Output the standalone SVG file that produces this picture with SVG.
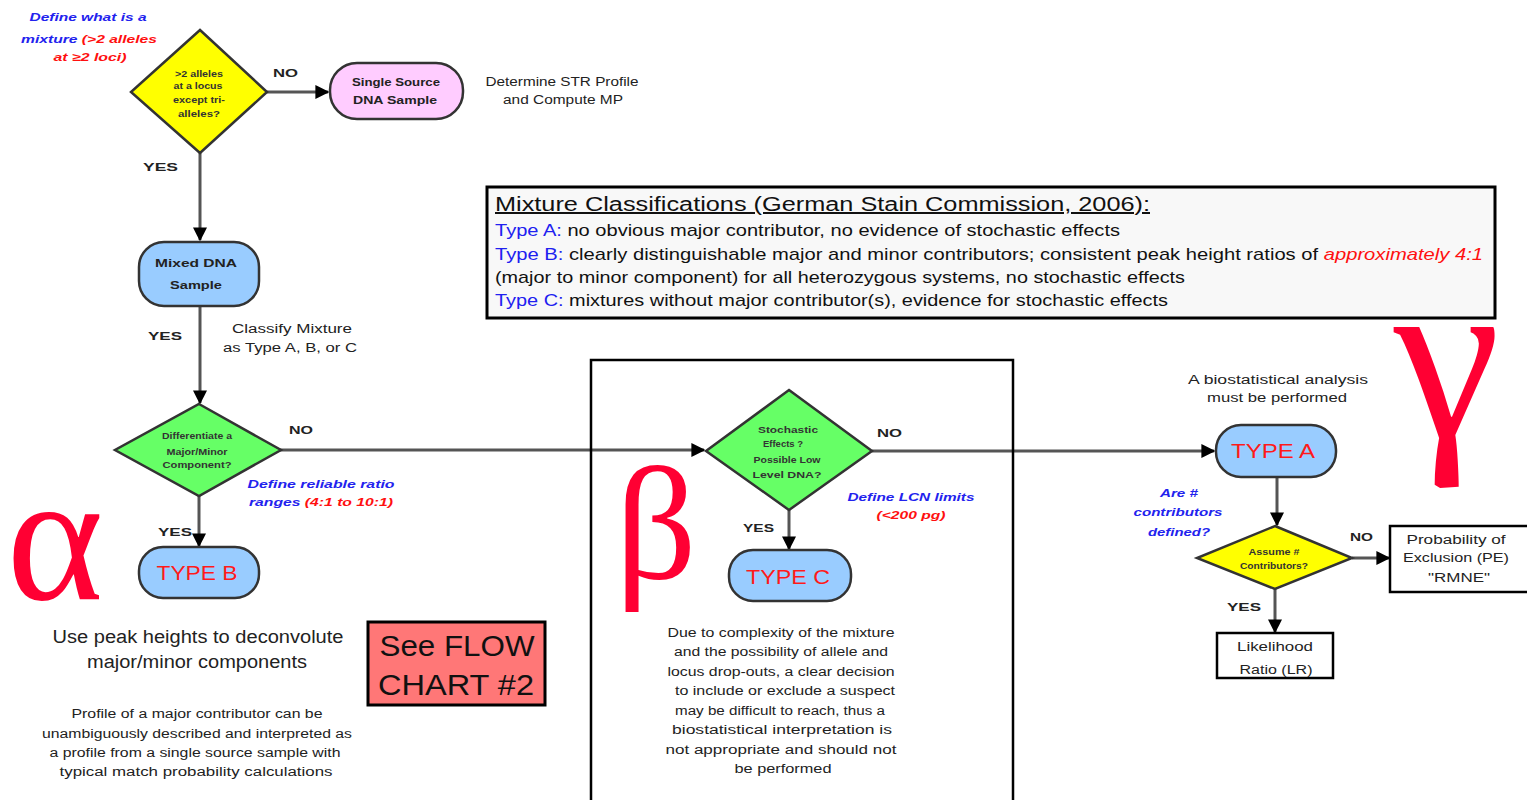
<svg xmlns="http://www.w3.org/2000/svg" width="1527" height="800" viewBox="0 0 1527 800">
<style>
text{font-family:"Liberation Sans",Arial,sans-serif;}
.n{stroke:#333;stroke-width:2.5;}
.s{font-size:11px;font-weight:bold;fill:#222;text-anchor:middle;}
.d{font-size:9.5px;font-weight:bold;fill:#333;text-anchor:middle;}
.lab{font-size:11px;font-weight:bold;fill:#222;}
.note{font-size:12px;fill:#222;text-anchor:middle;}
.blue{font-size:11px;font-weight:bold;font-style:italic;fill:#2222EE;text-anchor:middle;}
.red{fill:#FF1010;}
.type{font-size:21px;fill:#FF1A1A;text-anchor:middle;}
.greek{font-family:"Liberation Serif","Times New Roman",serif;fill:#FF0033;text-anchor:middle;}
.c{stroke:#555;stroke-width:3;fill:none;marker-end:url(#ah);}
.cl{font-size:17px;fill:#111;}
.tb{fill:#2020F0;}
</style>
<defs>
<marker id="ah" viewBox="0 0 10 10" refX="9" refY="5" markerWidth="14" markerHeight="14" orient="auto" markerUnits="userSpaceOnUse">
<path d="M0,0 L10,5 L0,10 z" fill="#000"/>
</marker>
</defs>
<rect width="1527" height="800" fill="#fff"/>

<g id="connectors">
<path class="c" d="M267,92 L328,92"/>
<path class="c" d="M200,153 L200,240"/>
<path class="c" d="M200,307 L200,403"/>
<path class="c" d="M280,450 L704,450"/>
<path class="c" d="M199,496 L199,546"/>
<path class="c" d="M872,451 L1214,451"/>
<path class="c" d="M789,510 L789,549"/>
<path class="c" d="M1277,478 L1277,525"/>
<path class="c" d="M1352,558 L1389,558"/>
<path class="c" d="M1275,589 L1275,632"/>
</g>

<g id="define-mixture">
<text class="blue" x="88" y="21" textLength="117" lengthAdjust="spacingAndGlyphs">Define what is a</text>
<text class="blue" x="89" y="43" textLength="136" lengthAdjust="spacingAndGlyphs">mixture <tspan class="red">(&gt;2 alleles</tspan></text>
<text class="blue" x="90" y="61" style="fill:#FF1010" textLength="73" lengthAdjust="spacingAndGlyphs">at ≥2 loci)</text>
</g>

<g id="d1">
<polygon class="n" points="200,30 267,92 200,153 131,92" fill="#FFFF00"/>
<text class="d" x="199" y="77" textLength="48" lengthAdjust="spacingAndGlyphs">&gt;2 alleles</text>
<text class="d" x="198" y="89" textLength="49" lengthAdjust="spacingAndGlyphs">at a locus</text>
<text class="d" x="199" y="103" textLength="52" lengthAdjust="spacingAndGlyphs">except tri-</text>
<text class="d" x="199" y="117" textLength="42" lengthAdjust="spacingAndGlyphs">alleles?</text>
</g>
<text class="lab" x="273" y="77" textLength="25" lengthAdjust="spacingAndGlyphs">NO</text>
<text class="lab" x="143" y="171" textLength="35" lengthAdjust="spacingAndGlyphs">YES</text>

<g id="single">
<rect class="n" x="330" y="63" width="133" height="56" rx="27" fill="#FFCCFF"/>
<text class="s" x="396" y="86" textLength="88" lengthAdjust="spacingAndGlyphs">Single Source</text>
<text class="s" x="395" y="104" textLength="84" lengthAdjust="spacingAndGlyphs">DNA Sample</text>
</g>
<g id="determine">
<text class="note" x="562" y="86" textLength="153" lengthAdjust="spacingAndGlyphs">Determine STR Profile</text>
<text class="note" x="563" y="104" textLength="120" lengthAdjust="spacingAndGlyphs">and Compute MP</text>
</g>

<g id="mixed">
<rect class="n" x="139" y="242" width="120" height="64" rx="25" fill="#99CCFF"/>
<text class="s" x="196" y="267" textLength="82" lengthAdjust="spacingAndGlyphs">Mixed DNA</text>
<text class="s" x="196" y="289" textLength="52" lengthAdjust="spacingAndGlyphs">Sample</text>
</g>
<text class="lab" x="148" y="340" textLength="34" lengthAdjust="spacingAndGlyphs">YES</text>
<text class="note" x="292" y="333" textLength="120" lengthAdjust="spacingAndGlyphs">Classify Mixture</text>
<text class="note" x="290" y="352" textLength="134" lengthAdjust="spacingAndGlyphs">as Type A, B, or C</text>

<g id="d2">
<polygon class="n" points="199,404 281,450 199,496 115,450" fill="#66FF66"/>
<text class="d" x="197" y="439" textLength="70" lengthAdjust="spacingAndGlyphs">Differentiate a</text>
<text class="d" x="197" y="455" textLength="61" lengthAdjust="spacingAndGlyphs">Major/Minor</text>
<text class="d" x="197" y="468" textLength="69" lengthAdjust="spacingAndGlyphs">Component?</text>
</g>
<text class="lab" x="289" y="434" textLength="24" lengthAdjust="spacingAndGlyphs">NO</text>
<text class="blue" x="321" y="488" textLength="147" lengthAdjust="spacingAndGlyphs">Define reliable ratio</text>
<text class="blue" x="321" y="506" textLength="144" lengthAdjust="spacingAndGlyphs">ranges <tspan class="red">(4:1 to 10:1)</tspan></text>
<text class="lab" x="158" y="536" textLength="34" lengthAdjust="spacingAndGlyphs">YES</text>

<g id="typeb">
<rect class="n" x="139" y="547" width="120" height="51" rx="24" fill="#99CCFF"/>
<text class="type" x="197" y="580" textLength="81" lengthAdjust="spacingAndGlyphs">TYPE B</text>
</g>
<text class="note" x="198" y="643" style="font-size:18px" textLength="291" lengthAdjust="spacingAndGlyphs">Use peak heights to deconvolute</text>
<text class="note" x="197" y="668" style="font-size:18px" textLength="220" lengthAdjust="spacingAndGlyphs">major/minor components</text>
<g id="profile-note">
<text class="note" x="197" y="718" textLength="251" lengthAdjust="spacingAndGlyphs">Profile of a major contributor can be</text>
<text class="note" x="197" y="738" textLength="310" lengthAdjust="spacingAndGlyphs">unambiguously described and interpreted as</text>
<text class="note" x="195" y="757" textLength="291" lengthAdjust="spacingAndGlyphs">a profile from a single source sample with</text>
<text class="note" x="196" y="776" textLength="273" lengthAdjust="spacingAndGlyphs">typical match probability calculations</text>
</g>

<g id="flow2">
<rect x="368" y="622" width="177" height="83" fill="#FF7777" stroke="#000" stroke-width="3"/>
<text x="457" y="656" style="font-size:30px;fill:#111;text-anchor:middle" textLength="155" lengthAdjust="spacingAndGlyphs">See FLOW</text>
<text x="456" y="695" style="font-size:30px;fill:#111;text-anchor:middle" textLength="156" lengthAdjust="spacingAndGlyphs">CHART #2</text>
</g>

<g id="classifications">
<rect x="487" y="187" width="1008" height="131" fill="#F8F8F8" stroke="#000" stroke-width="3"/>
<text x="495" y="211" style="font-size:20px;fill:#111;text-decoration:underline" textLength="655" lengthAdjust="spacingAndGlyphs">Mixture Classifications (German Stain Commission, 2006):</text>
<text class="cl" x="495" y="236" textLength="625" lengthAdjust="spacingAndGlyphs"><tspan class="tb">Type A:</tspan> no obvious major contributor, no evidence of stochastic effects</text>
<text class="cl" x="495" y="260" textLength="988" lengthAdjust="spacingAndGlyphs"><tspan class="tb">Type B:</tspan> clearly distinguishable major and minor contributors; consistent peak height ratios of <tspan style="fill:#FF1010;font-style:italic">approximately 4:1</tspan></text>
<text class="cl" x="495" y="283" textLength="690" lengthAdjust="spacingAndGlyphs">(major to minor component) for all heterozygous systems, no stochastic effects</text>
<text class="cl" x="495" y="306" textLength="673" lengthAdjust="spacingAndGlyphs"><tspan class="tb">Type C:</tspan> mixtures without major contributor(s), evidence for stochastic effects</text>
</g>

<g id="typec-region">
<rect x="591" y="360" width="422" height="445" fill="none" stroke="#000" stroke-width="2.5"/>
</g>

<g id="d3">
<polygon class="n" points="789,390 872,451 789,510 706,451" fill="#66FF66"/>
<text class="d" x="788" y="433" textLength="60" lengthAdjust="spacingAndGlyphs">Stochastic</text>
<text class="d" x="783" y="447" textLength="40" lengthAdjust="spacingAndGlyphs">Effects ?</text>
<text class="d" x="787" y="463" textLength="67" lengthAdjust="spacingAndGlyphs">Possible Low</text>
<text class="d" x="787" y="478" textLength="69" lengthAdjust="spacingAndGlyphs">Level DNA?</text>
</g>
<text class="lab" x="877" y="437" textLength="25" lengthAdjust="spacingAndGlyphs">NO</text>
<text class="blue" x="911" y="501" textLength="127" lengthAdjust="spacingAndGlyphs">Define LCN limits</text>
<text class="blue" x="911" y="519" style="fill:#FF1010" textLength="69" lengthAdjust="spacingAndGlyphs">(&lt;200 pg)</text>
<text class="lab" x="743" y="532" textLength="31" lengthAdjust="spacingAndGlyphs">YES</text>

<g id="typec">
<rect class="n" x="729" y="550" width="122" height="51" rx="24" fill="#99CCFF"/>
<text class="type" x="788" y="584" textLength="84" lengthAdjust="spacingAndGlyphs">TYPE C</text>
</g>
<g id="typec-note">
<text class="note" x="781" y="637" textLength="227" lengthAdjust="spacingAndGlyphs">Due to complexity of the mixture</text>
<text class="note" x="781" y="656" textLength="214" lengthAdjust="spacingAndGlyphs">and the possibility of allele and</text>
<text class="note" x="781" y="676" textLength="227" lengthAdjust="spacingAndGlyphs">locus drop-outs, a clear decision</text>
<text class="note" x="785" y="695" textLength="220" lengthAdjust="spacingAndGlyphs">to include or exclude a suspect</text>
<text class="note" x="780" y="715" textLength="210" lengthAdjust="spacingAndGlyphs">may be difficult to reach, thus a</text>
<text class="note" x="782" y="734" textLength="220" lengthAdjust="spacingAndGlyphs">biostatistical interpretation is</text>
<text class="note" x="781" y="754" textLength="231" lengthAdjust="spacingAndGlyphs">not appropriate and should not</text>
<text class="note" x="783" y="773" textLength="97" lengthAdjust="spacingAndGlyphs">be performed</text>
</g>

<text class="note" x="1278" y="384" textLength="180" lengthAdjust="spacingAndGlyphs">A biostatistical analysis</text>
<text class="note" x="1277" y="402" textLength="140" lengthAdjust="spacingAndGlyphs">must be performed</text>

<g id="typea">
<rect class="n" x="1216" y="425" width="120" height="52" rx="25" fill="#99CCFF"/>
<text class="type" x="1273" y="458" textLength="84" lengthAdjust="spacingAndGlyphs">TYPE A</text>
</g>
<text class="blue" x="1179" y="497" textLength="38" lengthAdjust="spacingAndGlyphs">Are #</text>
<text class="blue" x="1178" y="516" textLength="89" lengthAdjust="spacingAndGlyphs">contributors</text>
<text class="blue" x="1179" y="536" textLength="62" lengthAdjust="spacingAndGlyphs">defined?</text>

<g id="d4">
<polygon class="n" points="1275,526 1352,558 1275,589 1197,558" fill="#FFFF00"/>
<text class="d" x="1274" y="555" textLength="51" lengthAdjust="spacingAndGlyphs">Assume #</text>
<text class="d" x="1274" y="569" textLength="68" lengthAdjust="spacingAndGlyphs">Contributors?</text>
</g>
<text class="lab" x="1350" y="541" textLength="23" lengthAdjust="spacingAndGlyphs">NO</text>
<text class="lab" x="1227" y="611" textLength="34" lengthAdjust="spacingAndGlyphs">YES</text>

<g id="pe">
<rect x="1390" y="526" width="140" height="66" fill="#fff" stroke="#000" stroke-width="2.5"/>
<text class="note" x="1456" y="544" textLength="99" lengthAdjust="spacingAndGlyphs">Probability of</text>
<text class="note" x="1456" y="562" textLength="106" lengthAdjust="spacingAndGlyphs">Exclusion (PE)</text>
<text class="note" x="1459" y="582" textLength="62" lengthAdjust="spacingAndGlyphs">"RMNE"</text>
</g>
<g id="lr">
<rect x="1217" y="633" width="116" height="45" fill="#fff" stroke="#000" stroke-width="2.5"/>
<text class="note" x="1275" y="651" textLength="76" lengthAdjust="spacingAndGlyphs">Likelihood</text>
<text class="note" x="1276" y="674" textLength="73" lengthAdjust="spacingAndGlyphs">Ratio (LR)</text>
</g>

<text class="greek" x="55" y="599" style="font-size:185px">α</text>
<text class="greek" x="656" y="578" style="font-size:160px">β</text>
<text class="greek" x="1447" y="437" style="font-size:240px">γ</text>
</svg>
